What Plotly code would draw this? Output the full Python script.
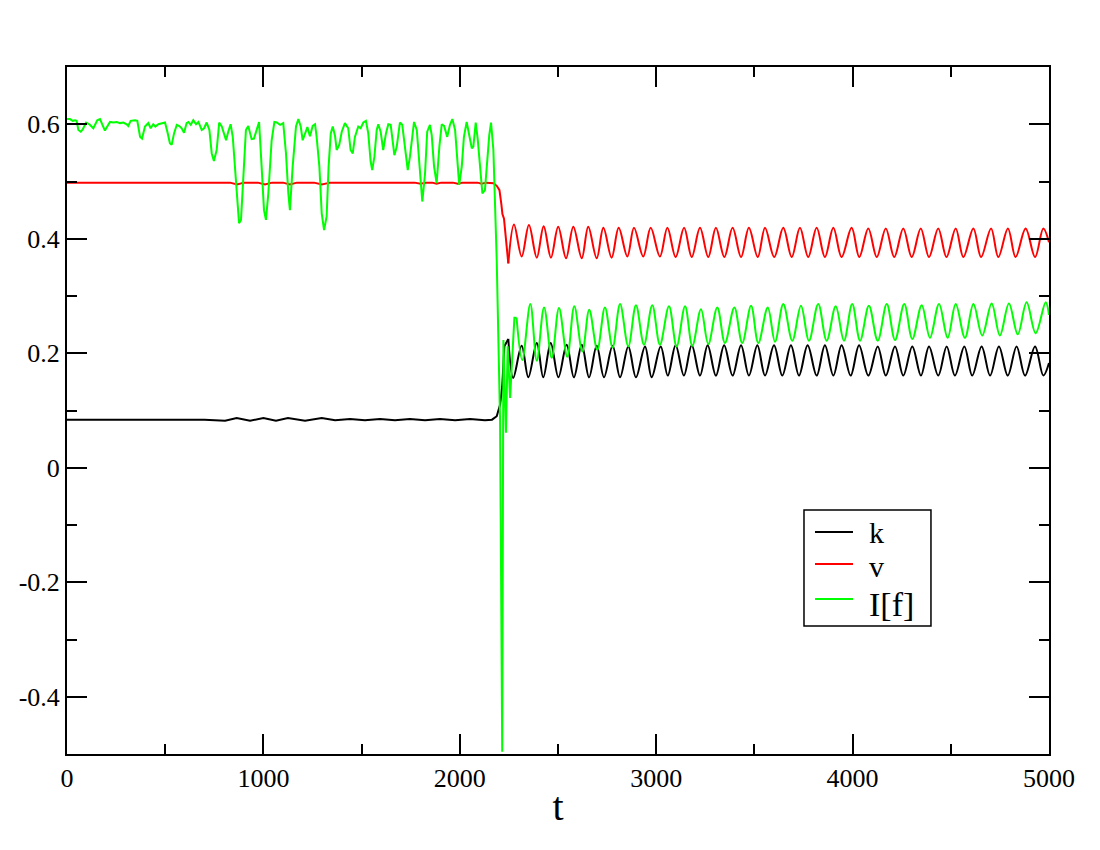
import plotly.graph_objects as go

# ---------------- data ----------------
# k (black)
k_pre_t = [0, 700, 805, 864, 932, 1000, 1064, 1125, 1212, 1297, 1365, 1441, 1517, 1594,
           1670, 1746, 1823, 1899, 1976, 2052, 2128, 2164, 2188, 2205, 2216, 2227, 2247]
k_pre_y = [0.084, 0.084, 0.082, 0.087, 0.082, 0.087, 0.082, 0.087, 0.082, 0.087, 0.083, 0.085,
           0.083, 0.085, 0.083, 0.085, 0.083, 0.085, 0.083, 0.085, 0.083, 0.084, 0.090, 0.110,
           0.142, 0.212, 0.225]
k_osc_t = [2247, 2272, 2315, 2349, 2392, 2425, 2463, 2502, 2544, 2581, 2621, 2658, 2697, 2734,
           2778, 2816, 2858, 2897, 2943, 2977, 3023, 3059, 3099, 3141, 3181, 3223, 3262, 3304,
           3346, 3389, 3432, 3472, 3515, 3554, 3600, 3642, 3686, 3727, 3771, 3817, 3859, 3902,
           3944, 3990, 4033, 4080, 4128, 4169, 4216, 4258, 4304, 4348, 4389, 4436, 4479, 4521,
           4569, 4609, 4657, 4700, 4745, 4790, 4835, 4878, 4929, 4971, 5000]
k_osc_y = [0.225, 0.157, 0.213, 0.158, 0.218, 0.158, 0.218, 0.158, 0.215, 0.158, 0.215, 0.158,
           0.213, 0.158, 0.213, 0.158, 0.212, 0.158, 0.212, 0.158, 0.212, 0.161, 0.214, 0.161,
           0.214, 0.161, 0.214, 0.161, 0.214, 0.161, 0.214, 0.161, 0.214, 0.161, 0.214, 0.161,
           0.214, 0.161, 0.214, 0.161, 0.214, 0.161, 0.214, 0.161, 0.214, 0.161, 0.212, 0.161,
           0.212, 0.161, 0.212, 0.161, 0.212, 0.161, 0.212, 0.161, 0.212, 0.161, 0.212, 0.161,
           0.212, 0.161, 0.212, 0.161, 0.212, 0.161, 0.183]

# v (red)
v_pre_t = [0, 830, 866, 901, 972, 1008, 1044, 1100, 1135, 1171, 1258, 1298, 1339,
           1770, 1800, 1830, 1860, 1882, 1905, 1965, 1990, 2015, 2090, 2112, 2135,
           2159, 2172, 2189, 2202, 2212, 2217, 2225, 2235, 2247]
v_pre_y = [0.498, 0.498, 0.495, 0.498, 0.498, 0.495, 0.498, 0.498, 0.495, 0.498, 0.498, 0.495, 0.498,
           0.498, 0.496, 0.498, 0.498, 0.496, 0.498, 0.498, 0.496, 0.498, 0.498, 0.496, 0.498,
           0.498, 0.497, 0.492, 0.485, 0.459, 0.443, 0.435, 0.394, 0.357]
v_osc_t = [2247, 2276, 2315, 2352, 2392, 2427, 2464, 2501, 2541, 2578, 2621, 2654, 2697, 2731,
           2773, 2809, 2853, 2887, 2934, 2972, 3019, 3057, 3099, 3142, 3181, 3223, 3265, 3304,
           3347, 3389, 3432, 3472, 3517, 3554, 3601, 3647, 3690, 3732, 3774, 3817, 3859, 3902,
           3944, 3995, 4034, 4080, 4123, 4169, 4212, 4258, 4301, 4347, 4389, 4436, 4478, 4525,
           4564, 4615, 4654, 4705, 4742, 4791, 4830, 4881, 4929, 4971, 5000]
v_osc_y = [0.357, 0.425, 0.369, 0.424, 0.367, 0.422, 0.367, 0.421, 0.366, 0.421, 0.366, 0.421,
           0.366, 0.419, 0.367, 0.419, 0.369, 0.419, 0.369, 0.419, 0.369, 0.419, 0.368, 0.419,
           0.368, 0.419, 0.368, 0.419, 0.368, 0.419, 0.368, 0.419, 0.368, 0.419, 0.368, 0.419,
           0.368, 0.419, 0.368, 0.419, 0.368, 0.419, 0.368, 0.419, 0.368, 0.418, 0.368, 0.418,
           0.368, 0.418, 0.368, 0.418, 0.368, 0.418, 0.368, 0.418, 0.368, 0.418, 0.368, 0.418,
           0.368, 0.418, 0.368, 0.418, 0.368, 0.418, 0.394]

# I[f] (green)
g_pre_t = [0, 15, 29, 41, 49, 58, 70, 80, 97, 114, 134, 154, 168, 182, 193, 205, 219, 236, 253,
           270, 287, 304, 312, 324, 346, 358, 372, 382, 397, 414, 426, 439, 450, 465, 482, 499,
           511, 524, 533, 545, 559, 572, 584, 596, 609, 618, 630, 643, 657, 669, 686, 698, 711,
           725, 737, 748, 762, 775, 788, 799, 810, 821, 833, 844, 855, 864, 876, 886, 898, 911,
           923, 940, 952, 966, 978, 991, 1003, 1013, 1025, 1042, 1056, 1068, 1085, 1101, 1115,
           1127, 1135, 1149, 1166, 1178, 1190, 1200, 1212, 1224, 1237, 1251, 1263, 1271, 1285,
           1297, 1309, 1322, 1332, 1343, 1353, 1365, 1373, 1386, 1399, 1415, 1432, 1444, 1455,
           1466, 1483, 1495, 1509, 1522, 1534, 1546, 1554, 1565, 1577, 1585, 1597, 1610, 1624,
           1636, 1648, 1658, 1667, 1679, 1695, 1707, 1721, 1735, 1746, 1760, 1767, 1781, 1794,
           1809, 1823, 1834, 1848, 1857, 1869, 1882, 1896, 1908, 1920, 1936, 1950, 1962, 1976,
           1987, 1997, 2010, 2021, 2035, 2048, 2061, 2069, 2081, 2091, 2103, 2115, 2128, 2140,
           2150, 2159, 2171, 2188, 2205, 2216, 2222, 2235, 2244, 2256, 2278, 2289]
g_pre_y = [0.609, 0.609, 0.606, 0.607, 0.606, 0.590, 0.587, 0.591, 0.603, 0.600, 0.593, 0.607,
           0.609, 0.599, 0.589, 0.596, 0.604, 0.603, 0.604, 0.602, 0.603, 0.600, 0.597, 0.606,
           0.607, 0.606, 0.578, 0.575, 0.596, 0.602, 0.593, 0.600, 0.596, 0.600, 0.602, 0.603,
           0.587, 0.567, 0.564, 0.584, 0.599, 0.597, 0.593, 0.585, 0.602, 0.604, 0.599, 0.607,
           0.600, 0.604, 0.590, 0.593, 0.603, 0.590, 0.549, 0.536, 0.555, 0.603, 0.596, 0.584,
           0.572, 0.587, 0.600, 0.578, 0.526, 0.479, 0.427, 0.433, 0.508, 0.590, 0.597, 0.574,
           0.575, 0.593, 0.604, 0.526, 0.450, 0.433, 0.479, 0.572, 0.604, 0.603, 0.599, 0.602,
           0.549, 0.479, 0.450, 0.526, 0.596, 0.609, 0.596, 0.572, 0.585, 0.595, 0.579, 0.597,
           0.600, 0.578, 0.526, 0.444, 0.415, 0.439, 0.526, 0.584, 0.596, 0.579, 0.555, 0.564,
           0.587, 0.602, 0.593, 0.555, 0.549, 0.578, 0.596, 0.593, 0.603, 0.606, 0.584, 0.535,
           0.520, 0.543, 0.590, 0.600, 0.587, 0.555, 0.584, 0.600, 0.599, 0.567, 0.546, 0.561,
           0.603, 0.599, 0.555, 0.520, 0.543, 0.587, 0.604, 0.590, 0.526, 0.465, 0.514, 0.587,
           0.599, 0.581, 0.526, 0.497, 0.561, 0.600, 0.597, 0.578, 0.599, 0.609, 0.590, 0.538,
           0.494, 0.526, 0.578, 0.604, 0.578, 0.558, 0.561, 0.603, 0.575, 0.526, 0.479, 0.485,
           0.543, 0.581, 0.603, 0.555, 0.363, 0.084, -0.496, 0.223, 0.061, 0.212, 0.122, 0.262,
           0.262]
g_osc_t = [2289, 2318, 2359, 2392, 2429, 2468, 2505, 2547, 2583, 2624, 2659, 2700, 2739, 2778,
           2816, 2858, 2897, 2938, 2980, 3019, 3065, 3104, 3147, 3184, 3228, 3265, 3311, 3350,
           3398, 3438, 3483, 3520, 3568, 3605, 3647, 3693, 3737, 3778, 3825, 3868, 3914, 3956,
           3998, 4038, 4083, 4128, 4174, 4216, 4263, 4304, 4352, 4394, 4440, 4484, 4525, 4572,
           4615, 4660, 4708, 4750, 4796, 4841, 4886, 4932, 4983, 5000]
g_osc_y = [0.262, 0.188, 0.286, 0.187, 0.280, 0.192, 0.279, 0.194, 0.282, 0.203, 0.276, 0.206,
           0.280, 0.210, 0.286, 0.212, 0.284, 0.215, 0.284, 0.215, 0.282, 0.212, 0.282, 0.213,
           0.277, 0.216, 0.280, 0.218, 0.280, 0.218, 0.283, 0.218, 0.280, 0.220, 0.286, 0.222,
           0.283, 0.222, 0.286, 0.222, 0.282, 0.222, 0.286, 0.222, 0.283, 0.222, 0.286, 0.223,
           0.286, 0.225, 0.284, 0.227, 0.286, 0.227, 0.286, 0.227, 0.286, 0.231, 0.287, 0.231,
           0.287, 0.233, 0.289, 0.235, 0.289, 0.267]

series_names = ["k", "v", "I[f]"]
series_colors = ["#000000", "#ff0000", "#00ff00"]
series_data = [
    (k_pre_t, k_pre_y, k_osc_t, k_osc_y),
    (v_pre_t, v_pre_y, v_osc_t, v_osc_y),
    (g_pre_t, g_pre_y, g_osc_t, g_osc_y),
]

x_ticks = [0, 1000, 2000, 3000, 4000, 5000]
x_labels = ["0", "1000", "2000", "3000", "4000", "5000"]
y_ticks = [-0.4, -0.2, 0, 0.2, 0.4, 0.6]
y_labels = ["-0.4", "-0.2", "0", "0.2", "0.4", "0.6"]

# ---------------- figure ----------------
FONT = "Liberation Serif"
fig = go.Figure()
for name, color, (pt, py, ot, oy) in zip(series_names, series_colors, series_data):
    fig.add_trace(go.Scatter(x=pt, y=py, mode="lines", name=name, legendgroup=name,
                             showlegend=False, line=dict(color=color, width=2)))
    fig.add_trace(go.Scatter(x=ot, y=oy, mode="lines", name=name, legendgroup=name,
                             showlegend=False,
                             line=dict(color=color, width=2, shape="spline", smoothing=1.0)))

# legend drawn as a framed box (xmgrace style) in paper coordinates
box_x0, box_x1, box_y0, box_y1 = 0.7505, 0.8798, 0.1863, 0.3552
line_y = [0.3231, 0.2766, 0.2256]
text_y = [0.3231, 0.2722, 0.2169]
entry_size = [30, 30, 34]
shapes = [dict(type="rect", xref="paper", yref="paper", x0=box_x0, x1=box_x1, y0=box_y0, y1=box_y1,
               line=dict(color="black", width=1.5), fillcolor="white", layer="above")]
annotations = []
for name, color, ly, ty, sz in zip(series_names, series_colors, line_y, text_y, entry_size):
    shapes.append(dict(type="line", xref="paper", yref="paper", x0=0.7617, x1=0.8004, y0=ly, y1=ly,
                       line=dict(color=color, width=2), layer="above"))
    annotations.append(dict(xref="paper", yref="paper", x=0.8160, y=ty, xanchor="left",
                            yanchor="middle", text=name, showarrow=False, borderpad=0,
                            font=dict(family=FONT, size=sz, color="black")))

axis_common = dict(showline=True, linecolor="black", linewidth=2, mirror="ticks",
                   ticks="inside", tickcolor="black", tickwidth=2, ticklen=20,
                   showgrid=False, zeroline=False,
                   tickfont=dict(family=FONT, size=26, color="black"))

fig.update_layout(
    width=1100, height=850,
    margin=dict(l=67, r=51, t=67, b=96),
    paper_bgcolor="white", plot_bgcolor="white",
    font=dict(family=FONT, color="black"),
    showlegend=False,
    shapes=shapes,
    annotations=annotations,
    xaxis=dict(range=[0, 5000], tickmode="array", tickvals=x_ticks, ticktext=x_labels,
               minor=dict(tickmode="linear", tick0=0, dtick=500, ticklen=10, tickwidth=2,
                          tickcolor="black", ticks="inside"),
               title=dict(text="t", font=dict(family=FONT, size=40, color="black"), standoff=0),
               **axis_common),
    yaxis=dict(range=[-0.5, 0.7], tickmode="array", tickvals=y_ticks, ticktext=y_labels,
               minor=dict(tickmode="linear", tick0=0, dtick=0.1, ticklen=10, tickwidth=2,
                          tickcolor="black", ticks="inside"),
               **axis_common),
)

fig.write_html("out.html", config={"displayModeBar": False},
               post_script="document.body.style.margin='0';")
